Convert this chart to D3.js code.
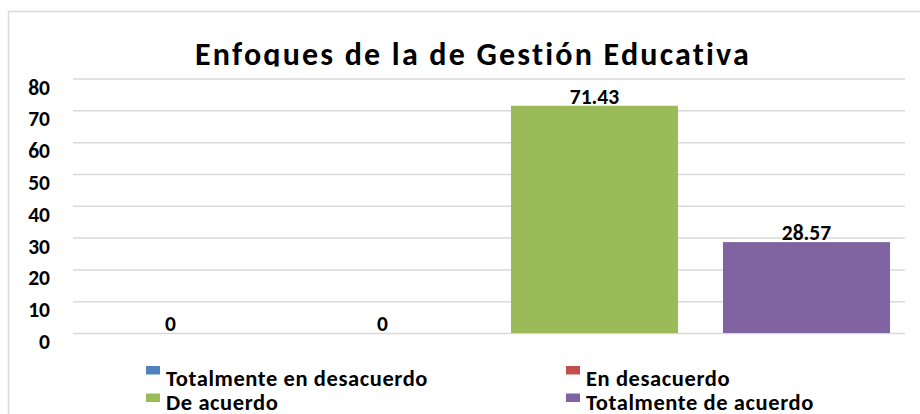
<!DOCTYPE html>
<html>
<head>
<meta charset="utf-8">
<script src="https://cdn.jsdelivr.net/npm/d3@7"></script>
<style>
  body { margin: 0; background: #fff; }
  svg text { font-family: Carlito, Calibri, Lato, sans-serif; font-weight: bold; fill: #000; }
</style>
</head>
<body>
<svg width="920" height="414"></svg>
<script>
const categories = ['Totalmente en desacuerdo', 'En desacuerdo', 'De acuerdo', 'Totalmente de acuerdo'];
const values = [0, 0, 71.43, 28.57];
const colors = ['#4f81bd', '#c0504d', '#9bbb59', '#8064a2'];
const yTicks = [0, 10, 20, 30, 40, 50, 60, 70, 80];

const svg = d3.select('svg');

// chart frame (runs off the right and bottom edge)
svg.append('rect')
  .attr('x', 8.5).attr('y', 11.5)
  .attr('width', 940).attr('height', 440)
  .attr('fill', 'none')
  .attr('stroke', '#d9d9d9')
  .attr('stroke-width', 1.5);

const x = d3.scaleBand()
  .domain(categories)
  .range([64.5, 912.5])
  .paddingInner(0.212)
  .paddingOuter(0.106);

const y = d3.scaleLinear()
  .domain([0, 80])
  .range([333, 78.5]);

// gridlines
svg.append('g')
  .attr('transform', 'translate(905,0)')
  .call(d3.axisLeft(y).tickValues(yTicks).tickSize(832).tickFormat(''))
  .call(g => g.select('.domain').remove())
  .selectAll('line')
    .attr('stroke', '#d9d9d9')
    .attr('stroke-width', 1.5);

// y labels (sit a bit under their gridline, like the original)
svg.append('g')
  .selectAll('text')
  .data(yTicks)
  .join('text')
    .attr('x', 50)
    .attr('y', d => y(d) + 16)
    .attr('text-anchor', 'end')
    .attr('font-size', 21.5)
    .text(d => d);

// bars
svg.append('g')
  .selectAll('rect')
  .data(values)
  .join('rect')
    .attr('x', (d, i) => x(categories[i]))
    .attr('y', d => y(d))
    .attr('width', x.bandwidth())
    .attr('height', d => y(0) - y(d))
    .attr('fill', (d, i) => colors[i]);

// value labels
svg.append('g')
  .selectAll('text')
  .data(values)
  .join('text')
    .attr('x', (d, i) => x(categories[i]) + x.bandwidth() / 2)
    .attr('y', d => y(d) - 2)
    .attr('text-anchor', 'middle')
    .attr('font-size', 21.5)
    .text(d => d);

// title, bottom clipped as in the source
svg.append('clipPath').attr('id', 'tclip')
  .append('rect').attr('x', 0).attr('y', 0).attr('width', 920).attr('height', 66.5);

svg.append('text')
  .attr('clip-path', 'url(#tclip)')
  .attr('x', 473)
  .attr('y', 65)
  .attr('text-anchor', 'middle')
  .attr('font-size', 32)
  .attr('letter-spacing', 2.2)
  .text('Enfoques de la de Gestión Educativa');

// legend 2x2
const legendPos = [[146, 366], [566, 366], [146, 393.5], [566, 393.5]];
const lg = svg.append('g')
  .selectAll('g')
  .data(categories)
  .join('g')
    .attr('transform', (d, i) => `translate(${legendPos[i][0]},${legendPos[i][1]})`);

lg.append('rect')
  .attr('width', 14).attr('height', 8.5)
  .attr('fill', (d, i) => colors[i]);

lg.append('text')
  .attr('x', 20)
  .attr('y', (d, i) => i < 2 ? 20 : 16.5)
  .attr('font-size', 22.5)
  .attr('letter-spacing', 0.6)
  .text(d => d);
</script>
</body>
</html>
